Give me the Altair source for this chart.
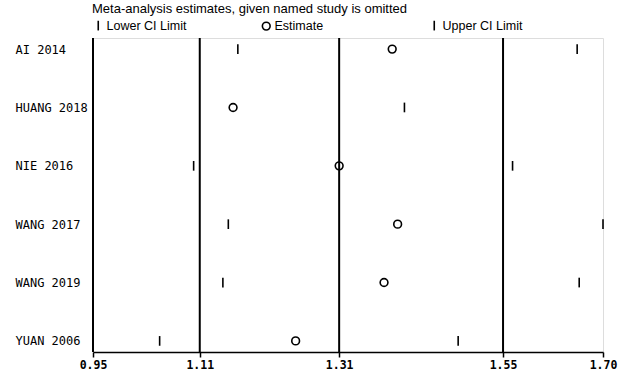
import altair as alt
import pandas as pd

studies = ["AI 2014", "HUANG 2018", "NIE 2016", "WANG 2017", "WANG 2019", "YUAN 2006"]
lower = [1.163, 0.950, 1.098, 1.149, 1.141, 1.048]
estimate = [1.390, 1.156, 1.312, 1.398, 1.378, 1.248]
upper = [1.662, 1.408, 1.567, 1.700, 1.665, 1.487]
ref_lines = [0.950, 1.107, 1.312, 1.553]
tick_values = [0.950, 1.107, 1.312, 1.553, 1.700]
types = ["Lower CI Limit", "Estimate", "Upper CI Limit"]

rows = []
for i, s in enumerate(studies):
    rows.append({"study": s, "type": "Lower CI Limit", "value": lower[i]})
    rows.append({"study": s, "type": "Estimate", "value": estimate[i]})
    rows.append({"study": s, "type": "Upper CI Limit", "value": upper[i]})
df = pd.DataFrame(rows)
ref_df = pd.DataFrame({"value": ref_lines})

LINE = "M0,-1L0,1"
CIRC = "M-0.8,0A0.8,0.8,0,1,1,0.8,0A0.8,0.8,0,1,1,-0.8,0Z"

xscale = alt.Scale(domain=[0.95, 1.70], nice=False, zero=False)

rules = alt.Chart(ref_df).mark_rule(color="black", strokeWidth=2).encode(
    x=alt.X("value:Q", scale=xscale,
            axis=alt.Axis(values=tick_values, format=".2f", title=None, grid=False,
                          labelFlush=False, labelOverlap=False,
                          labelFont="DejaVu Sans Mono", labelFontSize=11.5, labelFontWeight="bold",
                          labelColor="black", labelPadding=2,
                          tickColor="black", tickSize=5, tickWidth=1.5,
                          domainColor="black", domainWidth=1.5))
)

points = alt.Chart(df).mark_point(filled=False, color="black", strokeWidth=1.6, size=94, opacity=1).encode(
    x=alt.X("value:Q", scale=xscale),
    y=alt.Y("study:N", sort=studies, scale=alt.Scale(padding=0.19),
            axis=alt.Axis(title=None, ticks=False, tickSize=0, domain=False, grid=False,
                          labelAlign="left", labelPadding=78,
                          labelFont="DejaVu Sans Mono", labelFontSize=12, labelFontWeight=500,
                          labelColor="black")),
    shape=alt.Shape("type:N",
                    scale=alt.Scale(domain=types, range=[LINE, CIRC, LINE]),
                    legend=alt.Legend(title="Meta-analysis estimates, given named study is omitted",
                                      orient="none", legendX=-1, legendY=-35,
                                      direction="horizontal", columns=3, gridAlign="all",
                                      columnPadding=72, titlePadding=3, titleLimit=600,
                                      titleFont="Liberation Sans", titleFontSize=13,
                                      titleFontWeight="normal", titleColor="black",
                                      labelFont="Liberation Sans", labelFontSize=12.5,
                                      labelColor="black", labelOffset=2, labelLimit=300,
                                      symbolSize=94, symbolStrokeWidth=1.6,
                                      symbolStrokeColor="black", symbolFillColor="transparent")),
)

chart = alt.layer(rules, points).properties(
    width=510, height=314,
    autosize=alt.AutoSizeParams(type="none"),
    padding={"left": 93, "top": 38, "right": 26, "bottom": 23},
).configure_view(stroke=None).configure(background="white")

chart.save("out.html", embed_options={"renderer": "svg", "actions": False})
